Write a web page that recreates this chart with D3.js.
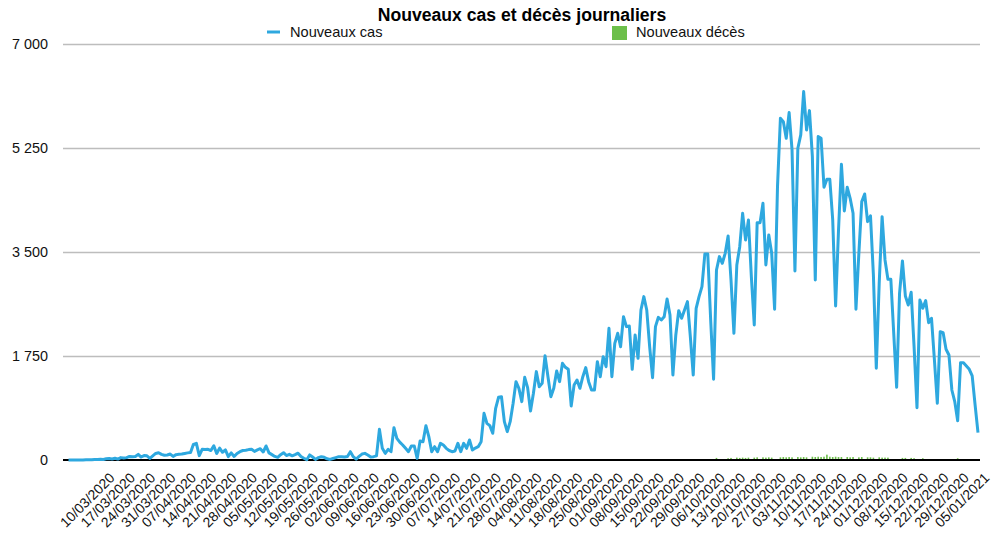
<!DOCTYPE html>
<html>
<head>
<meta charset="utf-8">
<script src="https://cdn.jsdelivr.net/npm/d3@7"></script>
<style>
  html, body { margin: 0; padding: 0; background: #fff; }
  svg { display: block; font-family: "Liberation Sans", Arial, Helvetica, sans-serif; }
</style>
</head>
<body>
<svg id="chart" width="1000" height="541"></svg>
<script>
// ---------- DATA ----------
const title = "Nouveaux cas et décès journaliers";
const seriesNames = ["Nouveaux cas", "Nouveaux décès"];
const firstDay = "2020-03-03";
const lastDay = "2021-01-10";

// Daily new cases (03/03/2020 .. 10/01/2021)
const newCases = [
  1, 0, 0, 1, 2, 0, 4, 5, 3, 10,
  10, 12, 8, 20, 25, 18, 30, 15, 40, 35,
  40, 60, 55, 60, 95, 50, 75, 70, 28, 70,
  110, 123, 95, 80, 85, 100, 60, 90, 95, 100,
  110, 120, 125, 264, 281, 73, 180, 175, 180, 160,
  240, 110, 200, 130, 170, 56, 120, 60, 110, 140,
  160, 165, 175, 180, 145, 170, 190, 135, 236, 120,
  90, 60, 45, 90, 123, 75, 95, 70, 90, 115,
  60, 30, 5, 85, 50, 10, 40, 55, 45, 20,
  10, 25, 40, 56, 56, 50, 60, 140, 56, 15,
  60, 100, 112, 84, 50, 56, 70, 516, 196, 112,
  180, 140, 544, 365, 300, 252, 196, 140, 236, 236,
  28, 320, 308, 578, 393, 140, 224, 140, 280, 252,
  196, 160, 140, 151, 280, 140, 280, 196, 336, 168,
  200, 224, 308, 785, 617, 578, 449, 870, 1055, 1066,
  645, 477, 645, 950, 1318, 1206, 982, 1391, 1217, 825,
  1122, 1487, 1234, 1290, 1756, 1402, 1066, 1206, 1498, 1318,
  1627, 1560, 1526, 909, 1262, 1346, 1206, 1402, 1554, 1318,
  1178, 1178, 1655, 1402, 1739, 1570, 2216, 1402, 1963, 2132,
  1907, 2412, 2244, 2255, 1526, 2104, 1711, 2524, 2749, 2524,
  1907, 1386, 2244, 2401, 2356, 2412, 2710, 2440, 1430, 2104,
  2513, 2384, 2524, 2665, 2076, 1430, 2553, 2749, 2917, 3467,
  3467, 2356, 1358, 3198, 3422, 3310, 3478, 3770, 3029, 2132,
  3282, 3590, 4151, 3703, 4039, 3086, 2272, 3994, 3994, 4320,
  3282, 3787, 3478, 2536, 4600, 5750, 5694, 5414, 5846, 5217,
  3181, 5245, 5470, 6199, 5554, 5879, 5105, 3029, 5442, 5414,
  4589, 4724, 4724, 4039, 2592, 3871, 4976, 4191, 4589, 4404,
  4151, 2536, 3478, 4348, 4477, 4011, 4107, 3114, 1543, 2973,
  4095, 3366, 3041, 3041, 2132, 1223, 2805, 3349, 2760, 2609,
  2822, 1907, 881, 2693, 2553, 2682, 2311, 2384, 1683, 954,
  2160, 2143, 1863, 1767, 1178, 982, 662, 1638, 1638, 1582,
  1526, 1414, 926, 460
];

// Daily new deaths, only reported days (date -> value)
const deathDates = [
  "2020-10-12","2020-10-16","2020-10-17","2020-10-19","2020-10-20","2020-10-21",
  "2020-10-22","2020-10-23","2020-10-25","2020-10-26","2020-10-28","2020-10-29",
  "2020-10-30","2020-10-31","2020-11-03","2020-11-04","2020-11-05","2020-11-06",
  "2020-11-07","2020-11-09","2020-11-10","2020-11-11","2020-11-12","2020-11-14",
  "2020-11-15","2020-11-16","2020-11-17","2020-11-18","2020-11-19","2020-11-20",
  "2020-11-21","2020-11-22","2020-11-23","2020-11-24","2020-11-26","2020-11-27",
  "2020-11-28","2020-11-30","2020-12-01","2020-12-03","2020-12-04","2020-12-05",
  "2020-12-07","2020-12-08","2020-12-09","2020-12-10","2020-12-15","2020-12-16",
  "2020-12-18","2020-12-19","2020-12-22","2021-01-03"
];
const deathValues = [
  35, 30, 35, 40, 35, 40,
  35, 40, 40, 45, 45, 40,
  45, 40, 45, 50, 45, 50,
  45, 50, 45, 50, 45, 55,
  50, 55, 50, 55, 90, 55,
  50, 55, 50, 50, 50, 45,
  50, 45, 50, 45, 45, 40,
  45, 40, 40, 40, 35, 35,
  35, 30, 30, 30
];

const yTicks = [0, 1750, 3500, 5250, 7000];
const yTickLabels = ["0", "1 750", "3 500", "5 250", "7 000"];
const xTickLabels = [
  "10/03/2020","17/03/2020","24/03/2020","31/03/2020","07/04/2020","14/04/2020",
  "21/04/2020","28/04/2020","05/05/2020","12/05/2020","19/05/2020","26/05/2020",
  "02/06/2020","09/06/2020","16/06/2020","23/06/2020","30/06/2020","07/07/2020",
  "14/07/2020","21/07/2020","28/07/2020","04/08/2020","11/08/2020","18/08/2020",
  "25/08/2020","01/09/2020","08/09/2020","15/09/2020","22/09/2020","29/09/2020",
  "06/10/2020","13/10/2020","20/10/2020","27/10/2020","03/11/2020","10/11/2020",
  "17/11/2020","24/11/2020","01/12/2020","08/12/2020","15/12/2020","22/12/2020",
  "29/12/2020","05/01/2021"
];

// ---------- CHART ----------
const parseISO = d3.utcParse("%Y-%m-%d");
const parseFR = d3.utcParse("%d/%m/%Y");
const days = d3.utcDay.range(parseISO(firstDay), d3.utcDay.offset(parseISO(lastDay), 1));
const cases = days.map((d, i) => ({ date: d, value: newCases[i] }));
const deaths = deathDates.map((s, i) => ({ date: parseISO(s), value: deathValues[i] }));

const svg = d3.select("#chart");
const plotLeft = 63, plotRight = 980;
const blue = "#2ea8df", green = "#6cbf4a";

const x = d3.scaleUtc()
  .domain([parseISO(firstDay), parseISO(lastDay)])
  .range([68.5, 978]);
const y = d3.scaleLinear().domain([0, 7000]).range([460, 44]);

// Title
svg.append("text")
  .attr("x", 522).attr("y", 21)
  .attr("text-anchor", "middle")
  .attr("font-size", 17.6).attr("font-weight", "bold").attr("fill", "#000")
  .text(title);

// Legend
const legend = svg.append("g").attr("font-size", 14.6).attr("fill", "#111");
legend.append("line")
  .attr("x1", 267).attr("x2", 280).attr("y1", 32).attr("y2", 32)
  .attr("stroke", blue).attr("stroke-width", 3);
legend.append("text").attr("x", 290).attr("y", 37).text(seriesNames[0]);
legend.append("rect")
  .attr("x", 612).attr("y", 26).attr("width", 15).attr("height", 14)
  .attr("fill", green);
legend.append("text").attr("x", 636).attr("y", 37).text(seriesNames[1]);

// Y axis with gridlines
const yAxis = d3.axisLeft(y)
  .tickValues(yTicks)
  .tickFormat((d, i) => yTickLabels[i])
  .tickSize(-(plotRight - plotLeft))
  .tickPadding(15);
const gy = svg.append("g").attr("transform", `translate(${plotLeft},0)`).call(yAxis);
gy.select(".domain").remove();
gy.selectAll(".tick line").attr("stroke", "#bdbdbd").attr("stroke-width", 1.6);
gy.selectAll(".tick text")
  .attr("font-size", 14.4).attr("fill", "#111")
  .attr("font-family", "'Liberation Sans', Arial, Helvetica, sans-serif");
gy.selectAll(".tick").filter(d => d === 0).select("line").remove();

// Deaths bars
svg.append("g").selectAll("rect")
  .data(deaths)
  .join("rect")
  .attr("x", d => x(d.date) - 0.8)
  .attr("width", 1.6)
  .attr("y", d => y(d.value))
  .attr("height", d => y(0) - y(d.value))
  .attr("fill", green);

// Baseline
svg.append("line")
  .attr("x1", plotLeft).attr("x2", plotRight)
  .attr("y1", y(0)).attr("y2", y(0))
  .attr("stroke", "#000").attr("stroke-width", 2);

// X axis labels
const xAxis = d3.axisBottom(x)
  .tickValues(xTickLabels.map(s => parseFR(s)))
  .tickFormat((d, i) => xTickLabels[i])
  .tickSize(0);
const gx = svg.append("g").attr("transform", `translate(0,${y(0)})`).call(xAxis);
gx.select(".domain").remove();
gx.selectAll(".tick text")
  .attr("font-size", 14).attr("fill", "#111")
  .attr("font-family", "'Liberation Sans', Arial, Helvetica, sans-serif")
  .attr("text-anchor", "middle")
  .attr("y", 0).attr("dy", "0.35em")
  .attr("transform", "translate(-2,40) rotate(-45)");

// Cases line
const line = d3.line()
  .x(d => x(d.date))
  .y(d => y(d.value));
svg.append("path")
  .datum(cases)
  .attr("fill", "none")
  .attr("stroke", blue)
  .attr("stroke-width", 3)
  .attr("stroke-linejoin", "round")
  .attr("d", line);
</script>
</body>
</html>
